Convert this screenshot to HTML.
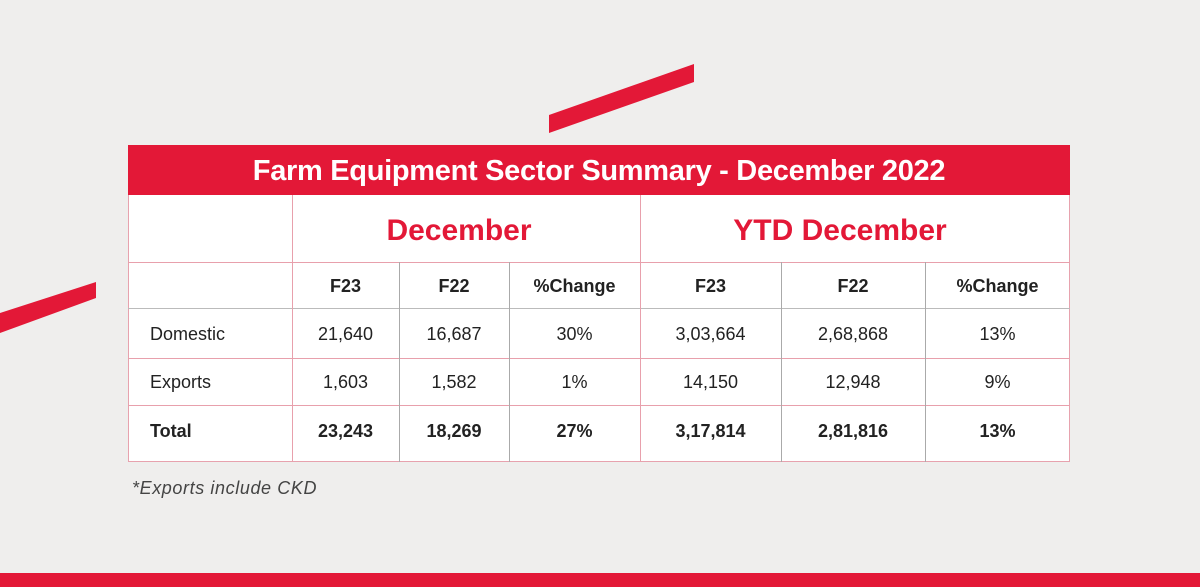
<!DOCTYPE html>
<html><head><meta charset="utf-8"><style>
body{margin:0;width:1200px;height:587px;background:#efeeed;position:relative;overflow:hidden;font-family:"Liberation Sans",sans-serif;}
.a{position:absolute}
.t{position:absolute;left:128px;top:145px;width:942px;height:317px;background:#fff;border:1px solid #e7a2ae;box-sizing:border-box}
.h{position:absolute;left:128px;top:145px;width:942px;height:50px;background:#e31837;color:#fff;font-weight:bold;font-size:29px;text-align:center;line-height:52px;letter-spacing:-0.3px}
.hl{position:absolute;left:128px;width:942px;height:1px;background:#e8a0ac}
.vl{position:absolute;width:1px}
.c{position:absolute;text-align:center;font-size:18px;color:#222}
.b{font-weight:bold}
.s{color:#e31837;font-weight:bold;font-size:30px}
</style></head><body>
<svg class="a" style="left:0;top:0" width="1200" height="587">
<polygon points="549,115 694,64 694,82 549,133" fill="#e31837"/>
<polygon points="0,313 96,282 96,298 0,333" fill="#e31837"/>
<rect x="0" y="573" width="1200" height="14" fill="#e31837"/>
</svg>
<div class="t"></div>
<div class="h">Farm Equipment Sector Summary - December 2022</div>
<div class="hl" style="top:262px"></div>
<div class="hl" style="top:308px;background:#bbb"></div>
<div class="hl" style="top:358px"></div>
<div class="hl" style="top:405px"></div>
<div class="vl" style="left:292px;top:195px;height:267px;background:#e8a0ac"></div>
<div class="vl" style="left:640px;top:195px;height:267px;background:#e8a0ac"></div>
<div class="vl" style="left:399px;top:262px;height:200px;background:#aaa"></div>
<div class="vl" style="left:509px;top:262px;height:200px;background:#aaa"></div>
<div class="vl" style="left:781px;top:262px;height:200px;background:#aaa"></div>
<div class="vl" style="left:925px;top:262px;height:200px;background:#aaa"></div>
<div class="c s" style="left:285px;width:348px;top:214px">December</div>
<div class="c s" style="left:625px;width:430px;top:214px">YTD December</div>
<div class="c b" style="left:292px;width:107px;top:276px">F23</div>
<div class="c b" style="left:399px;width:110px;top:276px">F22</div>
<div class="c b" style="left:509px;width:131px;top:276px">%Change</div>
<div class="c b" style="left:640px;width:141px;top:276px">F23</div>
<div class="c b" style="left:781px;width:144px;top:276px">F22</div>
<div class="c b" style="left:925px;width:145px;top:276px">%Change</div>
<div class="c" style="left:150px;top:324px;text-align:left">Domestic</div>
<div class="c" style="left:292px;width:107px;top:324px">21,640</div>
<div class="c" style="left:399px;width:110px;top:324px">16,687</div>
<div class="c" style="left:509px;width:131px;top:324px">30%</div>
<div class="c" style="left:640px;width:141px;top:324px">3,03,664</div>
<div class="c" style="left:781px;width:144px;top:324px">2,68,868</div>
<div class="c" style="left:925px;width:145px;top:324px">13%</div>
<div class="c" style="left:150px;top:372px;text-align:left">Exports</div>
<div class="c" style="left:292px;width:107px;top:372px">1,603</div>
<div class="c" style="left:399px;width:110px;top:372px">1,582</div>
<div class="c" style="left:509px;width:131px;top:372px">1%</div>
<div class="c" style="left:640px;width:141px;top:372px">14,150</div>
<div class="c" style="left:781px;width:144px;top:372px">12,948</div>
<div class="c" style="left:925px;width:145px;top:372px">9%</div>
<div class="c b" style="left:150px;top:421px;text-align:left">Total</div>
<div class="c b" style="left:292px;width:107px;top:421px">23,243</div>
<div class="c b" style="left:399px;width:110px;top:421px">18,269</div>
<div class="c b" style="left:509px;width:131px;top:421px">27%</div>
<div class="c b" style="left:640px;width:141px;top:421px">3,17,814</div>
<div class="c b" style="left:781px;width:144px;top:421px">2,81,816</div>
<div class="c b" style="left:925px;width:145px;top:421px">13%</div>
<div class="c" style="left:132px;top:478px;font-style:italic;color:#444;text-align:left;letter-spacing:0.6px">*Exports include CKD</div>
</body></html>
